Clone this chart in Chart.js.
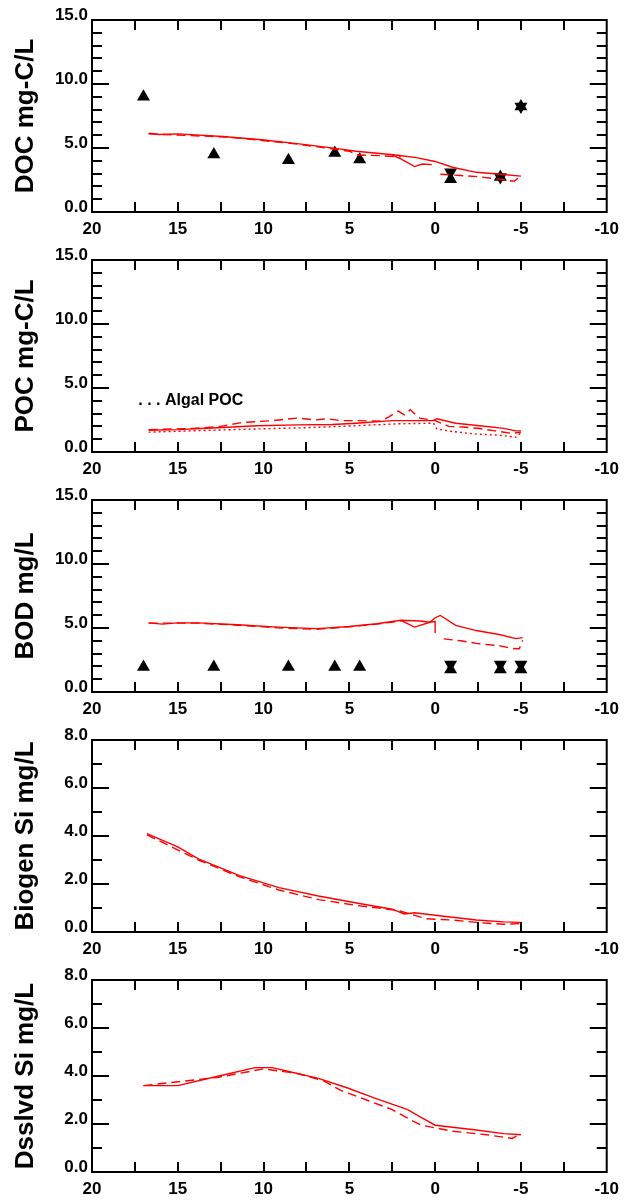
<!DOCTYPE html>
<html><head><meta charset="utf-8">
<script src="https://cdn.jsdelivr.net/npm/chart.js@4.4.1/dist/chart.umd.min.js"></script>
<style>
html,body{margin:0;padding:0;background:#fff;width:626px;height:1201px;overflow:hidden}
canvas{position:absolute;left:0}
</style></head><body>
<canvas id="c0" width="626" height="240" style="top:0px"></canvas>
<canvas id="c1" width="626" height="240" style="top:240px"></canvas>
<canvas id="c2" width="626" height="240" style="top:480px"></canvas>
<canvas id="c3" width="626" height="240" style="top:720px"></canvas>
<canvas id="c4" width="626" height="241" style="top:960px"></canvas>
<script>
// ---------- axis labels ----------
const xTickLabels = ['20', '15', '10', '5', '0', '-5', '-10'];
const yTitles = ['DOC mg-C/L', 'POC mg-C/L', 'BOD mg/L', 'Biogen Si mg/L', 'Dsslvd Si mg/L'];
const yMaxes = [15, 15, 15, 8, 8];
const noteText = '. . . Algal POC';

// ---------- DOC ----------
const docSolidX = [16.7, 16.1, 15.0, 12.4, 10.1, 7.8, 5.7, 4.6, 2.3, 1.1, 0.0, -1.0, -2.4, -3.8, -5.0];
const docSolidY = [6.15, 6.05, 6.1, 5.9, 5.65, 5.3, 4.95, 4.75, 4.45, 4.25, 3.95, 3.5, 3.1, 2.95, 2.8];
const docBranchX = [2.5, 2.0, 1.2, 0.75, 0.2];
const docBranchY = [4.45, 4.15, 3.55, 3.75, 3.7];
const docDashX = [16.7, 12.0, 8.0, 5.0, 4.5, 3.2, 2.0, 0.5, -0.3, -1.5, -2.6, -3.8, -4.6, -5.0];
const docDashY = [6.1, 5.85, 5.3, 4.75, 4.45, 4.4, 4.3, null, 2.95, 2.85, 2.75, 2.55, 2.4, 2.8];
const docObsUpX = [17.0, 12.9, 8.55, 5.85, 4.4, -0.9, -3.8, -5.0];
const docObsUpY = [9.0, 4.5, 4.05, 4.6, 4.1, 2.55, 2.73, 8.25];
const docObsDownX = [-0.9, -3.8, -5.0];
const docObsDownY = [3.1, 2.73, 8.25];

// ---------- POC ----------
const pocSolidX = [16.7, 15.0, 12.7, 10.4, 8.0, 6.0, 4.6, 2.5, 1.1, 0.1, -0.1, -1.2, -2.6, -4.0, -4.7, -5.0];
const pocSolidY = [1.7, 1.75, 1.9, 2.05, 2.12, 2.15, 2.25, 2.45, 2.45, 2.45, 2.6, 2.25, 2.05, 1.85, 1.65, 1.65];
const pocDashX = [16.7, 14.0, 12.5, 11.3, 9.5, 8.0, 7.0, 6.3, 5.5, 4.5, 3.2, 2.7, 2.15, 1.8, 1.45, 0.9, 0.0, -0.8, -1.6, -2.5, -3.5, -4.5, -5.0];
const pocDashY = [1.75, 1.85, 2.0, 2.3, 2.45, 2.65, 2.5, 2.6, 2.45, 2.45, 2.4, 2.75, 3.2, 2.9, 3.3, 2.65, 2.45, 2.0, 1.95, 1.85, 1.65, 1.45, 1.55];
const pocDotX = [16.7, 13.0, 10.4, 7.5, 4.6, 2.3, 0.1, -0.1, -1.0, -2.4, -3.8, -4.7, -5.0];
const pocDotY = [1.55, 1.7, 1.8, 1.9, 2.05, 2.2, 2.25, 1.8, 1.6, 1.4, 1.3, 1.15, 1.5];

// ---------- BOD ----------
const bodSolidX = [16.7, 15.9, 15.0, 13.8, 11.5, 9.2, 6.9, 5.0, 3.4, 2.0, 0.9, 0.3, 0.0, -0.3, -1.2, -2.4, -3.8, -4.7, -5.1];
const bodSolidY = [5.4, 5.3, 5.4, 5.4, 5.25, 5.07, 4.95, 5.12, 5.33, 5.6, 5.55, 5.45, 5.8, 5.98, 5.2, 4.8, 4.47, 4.17, 4.25];
const bodBranchX = [2.0, 1.2, 0.3, 0.0, 0.0];
const bodBranchY = [5.6, 5.07, 5.45, 5.5, 4.6];
const bodDashX = [16.7, 13.8, 11.5, 9.2, 6.9, 5.0, 3.4, 2.0, -0.5, -1.5, -2.4, -3.8, -4.5, -4.9, -5.1];
const bodDashY = [5.38, 5.38, 5.22, 5.02, 4.9, 5.1, 5.3, 5.55, 4.15, 4.0, 3.8, 3.6, 3.4, 3.38, 4.05];
const bodObsUpX = [17.0, 12.9, 8.55, 5.85, 4.4, -0.9, -3.8, -5.0];
const bodObsUpY = [1.95, 1.95, 1.95, 1.95, 1.95, 1.75, 1.75, 1.75];
const bodObsDownX = [-0.9, -3.8, -5.0];
const bodObsDownY = [2.15, 2.15, 2.15];

// ---------- Biogenic Si ----------
const bsiSolidX = [16.8, 15.0, 13.8, 11.4, 9.1, 6.8, 4.5, 2.5, 1.8, 1.2, 0.0, -2.4, -4.0, -5.0];
const bsiSolidY = [4.1, 3.55, 3.05, 2.35, 1.85, 1.5, 1.2, 0.95, 0.75, 0.8, 0.7, 0.5, 0.42, 0.4];
const bsiDashX = [16.8, 13.8, 11.4, 9.1, 6.8, 4.5, 2.2, 0.5, -1.0, -2.4, -4.0, -5.0];
const bsiDashY = [4.05, 3.0, 2.3, 1.75, 1.35, 1.1, 0.9, 0.55, 0.5, 0.4, 0.32, 0.35];

// ---------- Dissolved Si ----------
const dsiSolidX = [17.0, 15.0, 12.6, 10.5, 9.5, 8.6, 6.8, 5.1, 3.4, 1.6, 1.0, 0.0, -2.4, -4.0, -5.0];
const dsiSolidY = [3.6, 3.6, 4.0, 4.35, 4.35, 4.2, 3.9, 3.5, 3.05, 2.6, 2.35, 1.95, 1.75, 1.6, 1.55];
const dsiDashX = [17.0, 12.6, 10.0, 8.0, 6.5, 5.5, 4.0, 2.5, 1.5, 0.8, -1.0, -3.0, -4.5, -5.0];
const dsiDashY = [3.6, 3.95, 4.3, 4.1, 3.8, 3.4, 3.0, 2.6, 2.2, 1.95, 1.7, 1.55, 1.4, 1.6];

// ---------- helpers ----------
const FONT = "'Liberation Sans', Arial, Helvetica, sans-serif";
Chart.defaults.font.family = FONT;
Chart.defaults.color = '#000';

function pts(xs, ys) {
  return xs.map((x, i) => ({x: x, y: ys[i]}));
}
function splitDash(xs, ys, breakAfter) {
  const d = pts(xs, ys);
  d.splice(breakAfter + 1, 0, {x: (xs[breakAfter] + xs[breakAfter + 1]) / 2, y: null});
  return d;
}
function line(data, style) {
  const dash = style === 'dash' ? [9, 5] : style === 'dot' ? [2, 3] : [];
  return {type: 'line', data, borderColor: '#ff0000', borderWidth: 1.4, borderDash: dash,
    pointRadius: 0, tension: 0, fill: false, spanGaps: false};
}
function obs(data, down) {
  return {type: 'scatter', data, pointStyle: 'triangle', rotation: down ? 180 : 0,
    pointRadius: 7.5, backgroundColor: '#000', borderColor: '#000', borderWidth: 0};
}

const framePlugin = {
  id: 'frame',
  afterDatasetsDraw(chart, args, opts) {
    const ctx = chart.ctx, a = chart.chartArea;
    const xs = chart.scales.x, ys = chart.scales.y;
    ctx.save();
    ctx.strokeStyle = '#000';
    ctx.lineWidth = 2;
    ctx.beginPath();
    for (let v = 17.5; v > -10; v -= 2.5) {
      const px = Math.round(xs.getPixelForValue(v));
      ctx.moveTo(px, a.bottom); ctx.lineTo(px, a.bottom - 10);
      ctx.moveTo(px, a.top); ctx.lineTo(px, a.top + 10);
    }
    for (let v = opts.minor; v < ys.max; v += opts.minor) {
      const py = Math.round(ys.getPixelForValue(v));
      const major = Math.abs(v / opts.major - Math.round(v / opts.major)) < 1e-6;
      const len = major ? 17 : 10;
      ctx.moveTo(a.left, py); ctx.lineTo(a.left + len, py);
      ctx.moveTo(a.right, py); ctx.lineTo(a.right - len, py);
    }
    ctx.stroke();
    ctx.strokeRect(a.left, a.top, a.right - a.left, a.bottom - a.top);
    if (opts.note) {
      ctx.fillStyle = '#000';
      ctx.font = 'bold 16px ' + FONT;
      ctx.textAlign = 'left';
      ctx.textBaseline = 'middle';
      ctx.fillText(opts.note.text, xs.getPixelForValue(opts.note.x), ys.getPixelForValue(opts.note.y));
    }
    ctx.restore();
  }
};

function makeChart(idx, datasets, minor, major, note) {
  const ymax = yMaxes[idx];
  return new Chart(document.getElementById('c' + idx), {
    data: {datasets},
    plugins: [framePlugin],
    options: {
      responsive: false, animation: false, devicePixelRatio: 1,
      layout: {padding: {top: 20, right: 15, bottom: 0, left: 0}},
      plugins: {legend: {display: false}, tooltip: {enabled: false},
        frame: {minor, major, note}},
      scales: {
        x: {type: 'linear', min: -10, max: 20, reverse: true,
          grid: {display: false, drawTicks: false, tickLength: 0}, border: {display: false},
          ticks: {stepSize: 5, padding: 7, maxRotation: 0, autoSkip: false, color: '#000',
            font: {size: 17, weight: 'bold'},
            callback: (v) => xTickLabels[Math.round((20 - v) / 5)]},
          afterFit(s) { s.height = (idx === 4 ? 29 : 28); }},
        y: {type: 'linear', min: 0, max: ymax,
          grid: {display: false, drawTicks: false, tickLength: 0}, border: {display: false},
          ticks: {stepSize: major, padding: 4, labelOffset: -5, color: '#000',
            font: {size: 17, weight: 'bold'},
            callback: (v) => Number(v).toFixed(1)},
          title: {display: true, text: yTitles[idx], color: '#000',
            font: {size: 26, weight: 'bold'}, padding: {top: 10, bottom: 0}},
          afterFit(s) { s.width = 92; }}
      }
    }
  });
}

makeChart(0, [
  line(pts(docSolidX, docSolidY), 'solid'),
  line(pts(docBranchX, docBranchY), 'solid'),
  line(pts(docDashX, docDashY), 'dash'),
  obs(pts(docObsUpX, docObsUpY), false),
  obs(pts(docObsDownX, docObsDownY), true)
], 1, 5);

makeChart(1, [
  line(pts(pocSolidX, pocSolidY), 'solid'),
  line(pts(pocDashX, pocDashY), 'dash'),
  line(pts(pocDotX, pocDotY), 'dot')
], 1, 5, {text: noteText, x: 17.3, y: 4.05});

makeChart(2, [
  line(pts(bodSolidX, bodSolidY), 'solid'),
  line(pts(bodBranchX, bodBranchY), 'solid'),
  line(splitDash(bodDashX, bodDashY, 7), 'dash'),
  obs(pts(bodObsUpX, bodObsUpY), false),
  obs(pts(bodObsDownX, bodObsDownY), true)
], 1, 5);

makeChart(3, [
  line(pts(bsiSolidX, bsiSolidY), 'solid'),
  line(pts(bsiDashX, bsiDashY), 'dash')
], 1, 2);

makeChart(4, [
  line(pts(dsiSolidX, dsiSolidY), 'solid'),
  line(pts(dsiDashX, dsiDashY), 'dash')
], 1, 2);
</script>
</body></html>
